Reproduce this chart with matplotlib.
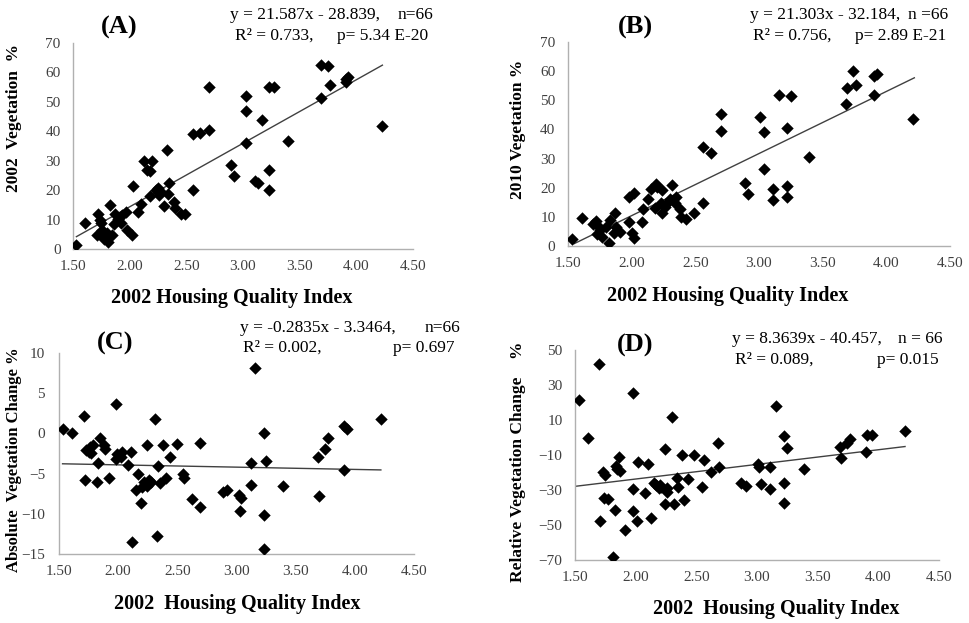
import matplotlib
matplotlib.use("Agg")
import matplotlib.pyplot as plt

plt.rcParams["font.family"] = ["Liberation Serif", "DejaVu Serif"]

# Panel A: 2002 vegetation % vs 2002 housing quality index
xa = [1.53, 1.61, 1.72, 1.74, 1.71, 1.76, 1.77, 1.81, 1.83, 1.84, 1.86, 1.87, 1.90,
      1.93, 1.97, 1.98, 2.02, 2.03, 2.07, 2.10, 2.13, 2.15, 2.18, 2.20, 2.18, 2.23,
      2.25, 2.26, 2.30, 2.33, 2.34, 2.35, 2.39, 2.40, 2.45, 2.49, 2.56, 2.56, 2.62,
      2.70, 2.70, 2.89, 2.92, 3.03, 3.03, 3.03, 3.11, 3.13, 3.17, 3.23, 3.27, 3.23,
      3.23, 3.40, 3.69, 3.69, 3.75, 3.77, 3.91, 3.93, 3.91, 4.23, 1.75, 1.80, 1.92,
      2.28]
ya = [1.5, 9.0, 12.0, 9.8, 4.7, 6.4, 3.5, 2.4, 14.9, 4.7, 8.6, 12.0, 10.3,
      11.5, 12.6, 6.6, 4.7, 21.5, 12.6, 15.2, 30.0, 26.8, 26.6, 30.0, 18.0, 20.2,
      20.6, 18.3, 14.7, 33.6, 18.6, 22.5, 16.0, 13.8, 12.0, 12.0, 39.0, 20.0, 39.5,
      54.9, 40.5, 28.5, 24.8, 52.0, 47.0, 35.9, 23.1, 22.5, 43.9, 55.0, 54.9, 27.0,
      20.0, 36.8, 51.3, 62.6, 62.3, 55.8, 56.9, 58.4, 57.8, 41.8, 8.9, 5.5, 9.0,
      19.5]

# Panel B: 2010 vegetation %
xb = [1.53, 1.61, 1.70, 1.72, 1.74, 1.75, 1.77, 1.82, 1.83, 1.86, 1.87, 1.88, 1.91,
      1.98, 1.98, 2.00, 2.02, 2.02, 2.08, 2.09, 2.13, 2.15, 2.19, 2.20, 2.18, 2.24,
      2.24, 2.23, 2.28, 2.30, 2.32, 2.35, 2.34, 2.38, 2.39, 2.43, 2.49, 2.56, 2.56,
      2.62, 2.70, 2.70, 2.89, 2.91, 3.01, 3.04, 3.04, 3.11, 3.11, 3.16, 3.22, 3.22,
      3.22, 3.25, 3.39, 3.68, 3.69, 3.74, 3.76, 3.90, 3.90, 3.93, 4.21, 1.73, 1.80,
      2.26]
yb = [2.3, 9.5, 7.5, 8.7, 6.6, 5.5, 3.0, 0.9, 8.9, 4.3, 11.2, 6.4, 4.9,
      16.9, 8.3, 4.3, 18.3, 2.6, 8.3, 12.6, 16.0, 19.7, 21.2, 20.3, 12.9, 19.2,
      11.2, 14.8, 14.8, 16.0, 20.9, 16.9, 14.6, 12.6, 10.0, 9.1, 11.2, 14.6, 34.0,
      32.0, 45.4, 39.4, 21.5, 17.8, 44.1, 39.2, 26.3, 19.6, 15.8, 51.7, 40.6, 20.5,
      16.9, 51.5, 30.4, 48.6, 54.3, 60.0, 55.1, 51.7, 58.2, 58.9, 43.7, 4.0, 6.5,
      13.5]

# Panel C: absolute vegetation change %
xc = [1.53, 1.61, 1.71, 1.72, 1.73, 1.75, 1.76, 1.79, 1.82, 1.83, 1.85, 1.88, 1.89,
      1.92, 1.98, 1.98, 1.99, 2.02, 2.03, 2.08, 2.11, 2.12, 2.15, 2.17, 2.19, 2.20,
      2.24, 2.24, 2.26, 2.28, 2.31, 2.33, 2.34, 2.35, 2.38, 2.40, 2.44, 2.50, 2.55,
      2.56, 2.62, 2.69, 2.69, 2.89, 2.92, 3.02, 3.04, 3.03, 3.12, 3.12, 3.16, 3.23,
      3.23, 3.23, 3.25, 3.39, 3.69, 3.70, 3.75, 3.77, 3.91, 3.93, 3.91, 4.22, 2.22,
      1.77]
yc = [0.5, 0.1, 2.2, -5.8, -2.1, -2.3, -1.7, -1.5, -6.1, -3.7, -0.6, -1.5, -1.9,
      -5.5, 3.6, -3.2, -2.6, -2.9, -2.3, -3.9, -2.3, -13.5, -7.1, -5.0, -8.7, -6.7,
      -1.5, -6.6, -5.8, -6.0, 1.8, -12.7, -4.0, -6.2, -1.5, -5.5, -2.9, -1.3, -5.0,
      -5.6, -8.2, -1.2, -9.2, -7.3, -7.1, -7.7, -8.0, -9.7, -3.7, -6.4, 8.1, 0.1,
      -10.1, -14.4, -3.4, -6.5, -2.9, -7.8, -2.0, -0.6, 0.9, 0.5, -4.6, 1.8, -6.0,
      -2.4]

# Panel D: relative vegetation change %
xd = [1.53, 1.61, 1.70, 1.71, 1.73, 1.75, 1.74, 1.77, 1.81, 1.83, 1.84, 1.86, 1.87,
      1.91, 1.98, 1.98, 1.98, 2.01, 2.02, 2.08, 2.10, 2.13, 2.15, 2.17, 2.19, 2.21,
      2.24, 2.24, 2.26, 2.26, 2.30, 2.32, 2.34, 2.35, 2.38, 2.40, 2.43, 2.48, 2.55,
      2.56, 2.62, 2.68, 2.69, 2.87, 2.91, 3.01, 3.02, 3.03, 3.11, 3.11, 3.16, 3.22,
      3.22, 3.22, 3.25, 3.39, 3.68, 3.69, 3.74, 3.77, 3.90, 3.91, 3.95, 4.22, 2.20,
      1.85]
yd = [21.4, 0.0, 41.8, -47.7, -19.5, -21.4, -34.8, -35.1, -68.5, -41.4, -16.3, -11.0, -19.0,
      -52.9, 25.6, -29.4, -42.0, -47.7, -13.8, -31.9, -15.1, -46.2, -26.2, -27.1, -29.0, -28.1,
      -6.8, -38.2, -29.0, -31.0, 11.9, -38.2, -23.0, -28.1, -10.0, -35.7, -23.9, -10.0, -28.1,
      -12.9, -19.9, -3.3, -17.0, -25.8, -27.7, -15.1, -17.0, -26.8, -17.0, -29.4, 18.0, 1.0,
      -25.8, -37.2, -5.8, -18.0, -5.6, -11.9, -3.0, -1.0, -8.1, 1.4, 1.4, 3.9, -27.0,
      -18.0]

# printed trend lines: slope, intercept, x range
fits = {
    "A": (21.587, -28.839, 1.53, 4.23),
    "B": (21.303, -32.184, 1.55, 4.22),
    "C": (-0.2835, -3.3464, 1.53, 4.22),
    "D": (8.3639, -40.457, 1.50, 4.22),
}

W, H = 969, 623
fig = plt.figure(figsize=(W / 100, H / 100), dpi=100)


def add_axes_px(x0, y0, x1, y1):
    return fig.add_axes([x0 / W, 1 - y1 / H, (x1 - x0) / W, (y1 - y0) / H])


def style(ax, ylim, yticks, ypad=9):
    ax.set_xlim(1.5, 4.5)
    ax.set_ylim(*ylim)
    xt = [1.5, 2.0, 2.5, 3.0, 3.5, 4.0, 4.5]
    ax.set_xticks(xt)
    ax.set_xticklabels([f"{v:.2f}" for v in xt])
    ax.set_yticks(yticks)
    for s in ["top", "right"]:
        ax.spines[s].set_visible(False)
    for s in ["left", "bottom"]:
        ax.spines[s].set_color("#b0b0b0")
        ax.spines[s].set_linewidth(1.0)
    ax.tick_params(length=0, labelsize=11, colors="#404040")
    ax.tick_params(axis="y", pad=ypad)
    ax.tick_params(axis="x", pad=8)


def draw(ax, x, y, key):
    m, b, x0, x1 = fits[key]
    ax.plot([x0, x1], [m * x0 + b, m * x1 + b], color="#404040", lw=1.0, zorder=2)
    ax.scatter(x, y, marker="D", s=40, color="black", linewidths=0, zorder=3)


axA = add_axes_px(73, 43, 413, 249)
draw(axA, xa, ya, "A")
style(axA, (0, 70), range(0, 71, 10))

axB = add_axes_px(568, 42, 950, 246)
draw(axB, xb, yb, "B")
style(axB, (0, 70), range(0, 71, 10))

axC = add_axes_px(59, 353, 414, 554)
draw(axC, xc, yc, "C")
style(axC, (-15, 10), range(-15, 11, 5), ypad=10)

axD = add_axes_px(575, 350, 939, 560)
draw(axD, xd, yd, "D")
style(axD, (-70, 50), range(-70, 51, 20))


def ftext(x, y, s, **kw):
    fig.text(x / W, 1 - y / H, s, **kw)


bold_lbl = dict(fontweight="bold", color="black")
# x-axis labels
ftext(232, 298, "2002 Housing Quality Index", ha="center", va="center", fontsize=14.5, **bold_lbl)
ftext(728, 296, "2002 Housing Quality Index", ha="center", va="center", fontsize=14.5, **bold_lbl)
ftext(237, 604, "2002  Housing Quality Index", ha="center", va="center", fontsize=14.5, **bold_lbl)
ftext(776, 609, "2002  Housing Quality Index", ha="center", va="center", fontsize=14.5, **bold_lbl)

# y-axis labels
ftext(14, 118, "2002  Vegetation  %", ha="center", va="center", rotation=90, fontsize=12.5, **bold_lbl)
ftext(518, 129, "2010 Vegetation %", ha="center", va="center", rotation=90, fontsize=12.5, **bold_lbl)
ftext(14, 460, "Absolute  Vegetation Change %", ha="center", va="center", rotation=90, fontsize=12, **bold_lbl)
ftext(518, 462, "Relative Vegetation Change    %", ha="center", va="center", rotation=90, fontsize=12.5, **bold_lbl)

# panel letters
for lab, px, py in [("(A)", 119, 27), ("(B)", 635, 27), ("(C)", 115, 343), ("(D)", 635, 345)]:
    ftext(px, py, lab, ha="center", va="center", fontsize=19, **bold_lbl)

# regression statistics
eq = dict(fontsize=12.5, color="black", va="center", ha="left")
ftext(230, 15, "y = 21.587x - 28.839,", **eq)
ftext(398, 15, "n=66", **eq)
ftext(235, 36, "R² = 0.733,", **eq)
ftext(337, 36, "p= 5.34 E-20", **eq)

ftext(750, 15, "y = 21.303x - 32.184,", **eq)
ftext(908, 15, "n =66", **eq)
ftext(753, 36, "R² = 0.756,", **eq)
ftext(855, 36, "p= 2.89 E-21", **eq)

ftext(240, 328, "y = -0.2835x - 3.3464,", **eq)
ftext(425, 328, "n=66", **eq)
ftext(243, 348, "R² = 0.002,", **eq)
ftext(393, 348, "p= 0.697", **eq)

ftext(732, 339, "y = 8.3639x - 40.457,", **eq)
ftext(898, 339, "n = 66", **eq)
ftext(735, 360, "R² = 0.089,", **eq)
ftext(877, 360, "p= 0.015", **eq)

fig.savefig("out.png", dpi=100, facecolor="white")
